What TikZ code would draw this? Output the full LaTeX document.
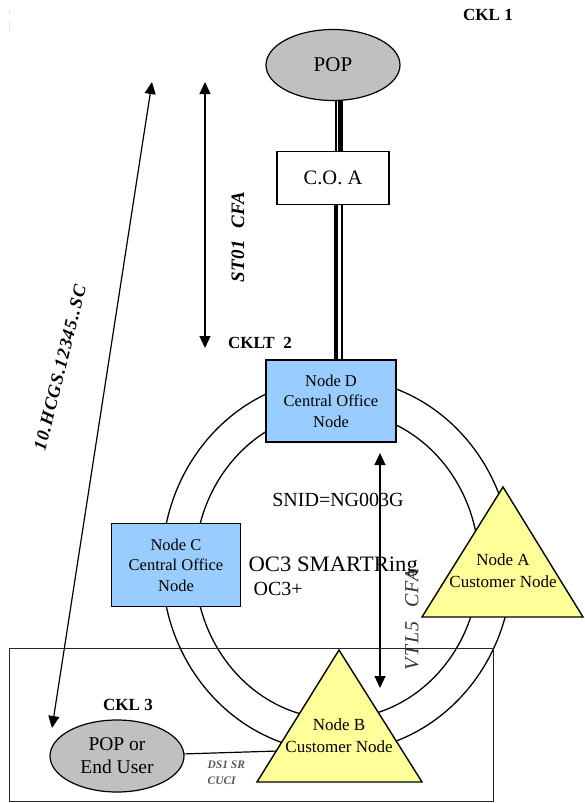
\documentclass[tikz,border=0pt]{standalone}
\usepackage{fontspec}
\usepackage{graphicx}
\setmainfont{Liberation Serif}
\usetikzlibrary{arrows.meta,shapes.geometric}
\pgfdeclarelayer{background}
\pgfsetlayers{background,main}
\definecolor{nodeblue}{HTML}{99CCFF}
\definecolor{nodeyellow}{HTML}{FFFF99}
\definecolor{popgray}{HTML}{C0C0C0}
\begin{document}
\begin{tikzpicture}[x=1pt,y=-1pt,
  line width=1.2pt,
  cobox/.style={draw, fill=nodeblue, minimum width=130pt, minimum height=82pt, inner sep=0pt, align=center, font=\fontsize{16.5}{20.5}\selectfont},
  tri/.style={draw, fill=nodeyellow, line width=1.4pt, line join=miter},
  tritext/.style={align=center, inner sep=0pt, font=\fontsize{17}{22}\selectfont},
  popnode/.style={draw, ellipse, fill=popgray, minimum width=134pt, minimum height=71pt, inner sep=0pt, align=center},
  ckl/.style={inner sep=0pt, font=\fontsize{17}{19}\selectfont\bfseries},
  ring/.style={line width=1.3pt},
  dimarrow/.style={line width=1.2pt, {Triangle[length=12pt,width=11pt]}-{Triangle[length=12pt,width=11pt]}},
  big/.style={inner sep=0pt, font=\fontsize{20}{23}\selectfont}
]
\useasboundingbox (0,0) rectangle (584,803);

% faint marks
\draw[black!12, line width=1pt] (9,10) -- (9,14);
\draw[black!12, line width=1pt] (9,22) -- (9,31);

% nodes
\node[popnode, font=\fontsize{21}{22}\selectfont] (pop) at (333,65) {POP};
\node[draw, fill=white, minimum width=112pt, minimum height=53pt, inner sep=0pt, font=\fontsize{20.5}{22}\selectfont] (coa) at (333,178) {C.O. A};
\node[cobox] (nodeD) at (331,401) {Node D\\Central Office\\Node};
\node[cobox, minimum width=129pt, minimum height=83pt] (nodeC) at (176,565) {Node C\\Central Office\\Node};
\node[popnode, minimum height=72pt, font=\fontsize{19.5}{23}\selectfont] (peu) at (117,756) {POP or\\End User};

\draw[tri] (503,487) -- (583,617) -- (422,617) -- cycle;
\node[tritext] (nodeA) at (503,571) {Node A\\Customer Node};
\draw[tri] (339,650) -- (422,782) -- (257,782) -- cycle;
\node[tritext] (nodeB) at (339,736) {Node B\\Customer Node};

% labels
\node[ckl] (ckl1) at (488,15) {CKL 1};
\node[ckl] (cklt2) at (260,343) {CKLT\ \ 2};
\node[ckl] (ckl3) at (128,705) {CKL 3};
\node[big] (snid) at (338,500) {SNID=NG003G};
\node[big, anchor=west, font=\fontsize{22}{24}\selectfont] (ringname) at (248,567) {\scalebox{1.03}[1]{OC3 SMARTRing}};
\node[big, anchor=west] (oc3p) at (253,589) {OC3+};
\node[font=\fontsize{11.5}{16}\selectfont\bfseries\itshape, text=black!65, align=left, anchor=west, inner sep=0pt] (ds1) at (207,773) {DS1 SR\\CUCI};
\node[rotate=90, inner sep=0pt, font=\fontsize{19}{20}\selectfont\bfseries\itshape\addfontfeature{LetterSpace=3}] (st01) at (238,237) {ST01\ \ CFA};
\node[rotate=90, inner sep=0pt, font=\fontsize{20}{22}\selectfont\itshape\addfontfeature{LetterSpace=8}, text=black!80] (vtl5) at (412,620) {VTL5\ \ CFA};
\node[rotate=76, inner sep=0pt, font=\fontsize{18}{20}\selectfont\bfseries\itshape\addfontfeature{LetterSpace=6}] (hcgs) at (60,368) {10.HCGS.12345..SC};

% arrows
\coordinate (st01top) at (205,82);
\coordinate (st01bot) at (205,348);
\draw[dimarrow] (st01top) -- (st01bot);
\coordinate (vtltop) at (380,453);
\coordinate (vtlbot) at (380,688);
\draw[dimarrow] (vtltop) -- (vtlbot);
\coordinate (diagtop) at (152,82);
\coordinate (diagbot) at (52,728);
\draw[dimarrow] (diagtop) -- (diagbot);

% customer premises box
\draw[line width=1pt, black!85] (9,648) rectangle (493,801);

\coordinate (nbl) at (278,751);

\begin{pgfonlayer}{background}
\draw[ring] (337,565) ellipse [x radius=175pt, y radius=187pt];
\draw[ring] (337,565) ellipse [x radius=142pt, y radius=154pt];
\draw[line width=1.2pt] ([xshift=3pt]pop.center) -- ([xshift=3pt]coa.center);
\draw[line width=4.5pt] ([xshift=7.5pt]pop.center) -- ([xshift=7.5pt]coa.center);
\draw[line width=4.5pt] ([xshift=3pt]coa.center) -- ([xshift=3pt]coa.center |- nodeD.center);
\draw[line width=1.2pt] ([xshift=9pt]coa.center) -- ([xshift=9pt]coa.center |- nodeD.center);
\draw[line width=1.2pt] (peu) -- (nbl);
\end{pgfonlayer}
\end{tikzpicture}
\end{document}
